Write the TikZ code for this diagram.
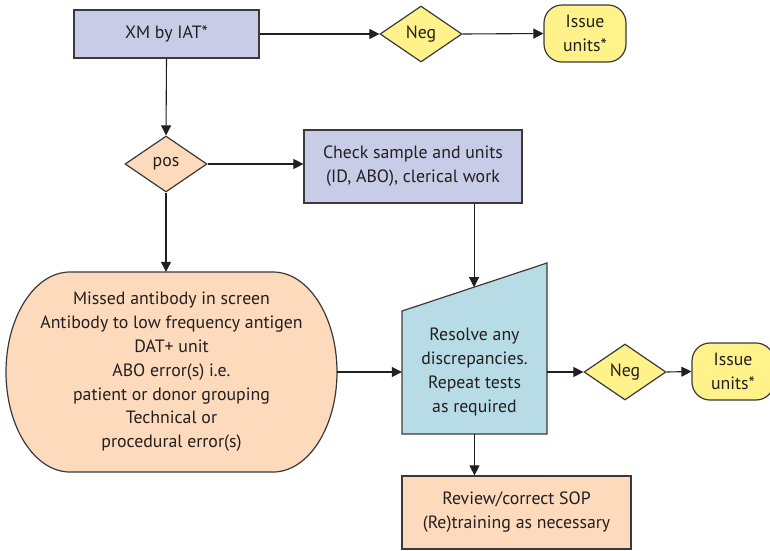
\documentclass[tikz,border=0pt]{standalone}
\usepackage{fontspec}
\setmainfont{PT Sans}
\usetikzlibrary{arrows.meta,shapes.geometric,calc}
\definecolor{ink}{HTML}{231F20}
\definecolor{edgegray}{HTML}{3A3A3A}
\definecolor{lav}{HTML}{C9CCE6}
\definecolor{yel}{HTML}{FFF28A}
\definecolor{peach}{HTML}{FDDABB}
\definecolor{cyanbox}{HTML}{B7DCE6}
\begin{document}
\begin{tikzpicture}[x=1pt,y=-1pt,
  txt/.style={font=\fontsize{17.8}{23.8}\selectfont, text=ink, align=center, inner sep=0pt},
  outline/.style={draw=edgegray, line width=1.2pt},
  rectbox/.style={txt, outline, rectangle},
  decision/.style={txt, outline, diamond, aspect=1.46, minimum width=82pt, minimum height=56pt},
  issuebox/.style={txt, outline, fill=yel, rectangle, rounded corners=18pt, minimum width=82pt, minimum height=57pt},
  flow/.style={draw=ink, line width=1.1pt, -{Triangle[length=10pt,width=10pt]}}
]
\useasboundingbox (0,0) rectangle (770,550);

% top row
\node[rectbox, fill=lav, minimum width=185pt, minimum height=48pt] (xm) at (166.5,34) {XM by IAT*};
\node[decision, fill=yel] (neg1) at (421,34) {Neg};
\node[issuebox] (iss1) at (585,33.5) {Issue\\units*};

% positive branch
\node[decision, fill=peach] (pos) at (166,164) {pos};
\node[rectbox, fill=lav, minimum width=218pt, minimum height=73pt] (check) at (413,166.5) {Check sample and units\\(ID, ABO), clerical work};

% causes: flat top and bottom, elliptical ends
\draw[outline, fill=peach]
  (70,272) -- (273,272)
  .. controls (308.3,272) and (337,316.8) .. (337,372)
  .. controls (337,427.2) and (308.3,472) .. (273,472)
  -- (70,472)
  .. controls (34.7,472) and (6,427.2) .. (6,372)
  .. controls (6,316.8) and (34.7,272) .. (70,272) -- cycle;
\node[txt, minimum width=331pt, minimum height=200pt] (miss) at (171.5,372)
  {Missed antibody in screen\\Antibody to low frequency antigen\\DAT+ unit\\ABO error(s) i.e.\\patient or donor grouping\\Technical or\\procedural error(s)};

% resolve: manual-input trapezoid
\coordinate (tl) at (402,311);
\coordinate (tr) at (547,263);
\draw[outline, fill=cyanbox] (tl) -- (tr) -- (547,434) -- (402,434) -- cycle;
\node[txt, minimum width=145pt, minimum height=124pt] (res) at (474.5,372)
  {Resolve any\\discrepancies.\\Repeat tests\\as required};
\path (tl) -- (tr) coordinate[pos=0.497] (rtop);

\node[decision, fill=yel] (neg2) at (625,372) {Neg};
\node[issuebox] (iss2) at (733,371.5) {Issue\\units*};

\node[rectbox, fill=peach, minimum width=229pt, minimum height=73pt] (sop) at (516.5,512.5)
  {Review/correct SOP\\(Re)training as necessary};

% connectors
\draw[flow] (xm.east) -- (neg1.west);
\draw[flow] (neg1.east) -- (iss1.west);
\draw[flow] (xm.south) -- (pos.north);
\draw[flow] (pos.east) -- (check.west |- pos.east);
\draw[flow] (pos.south) -- (pos.south |- miss.north);
\draw[flow] (check.south -| rtop) -- (rtop);
\draw[flow] (miss.east) -- (res.west);
\draw[flow] (res.east) -- (neg2.west);
\draw[flow] (neg2.east) -- (iss2.west);
\draw[flow] (res.south) -- (res.south |- sop.north);
\end{tikzpicture}
\end{document}
